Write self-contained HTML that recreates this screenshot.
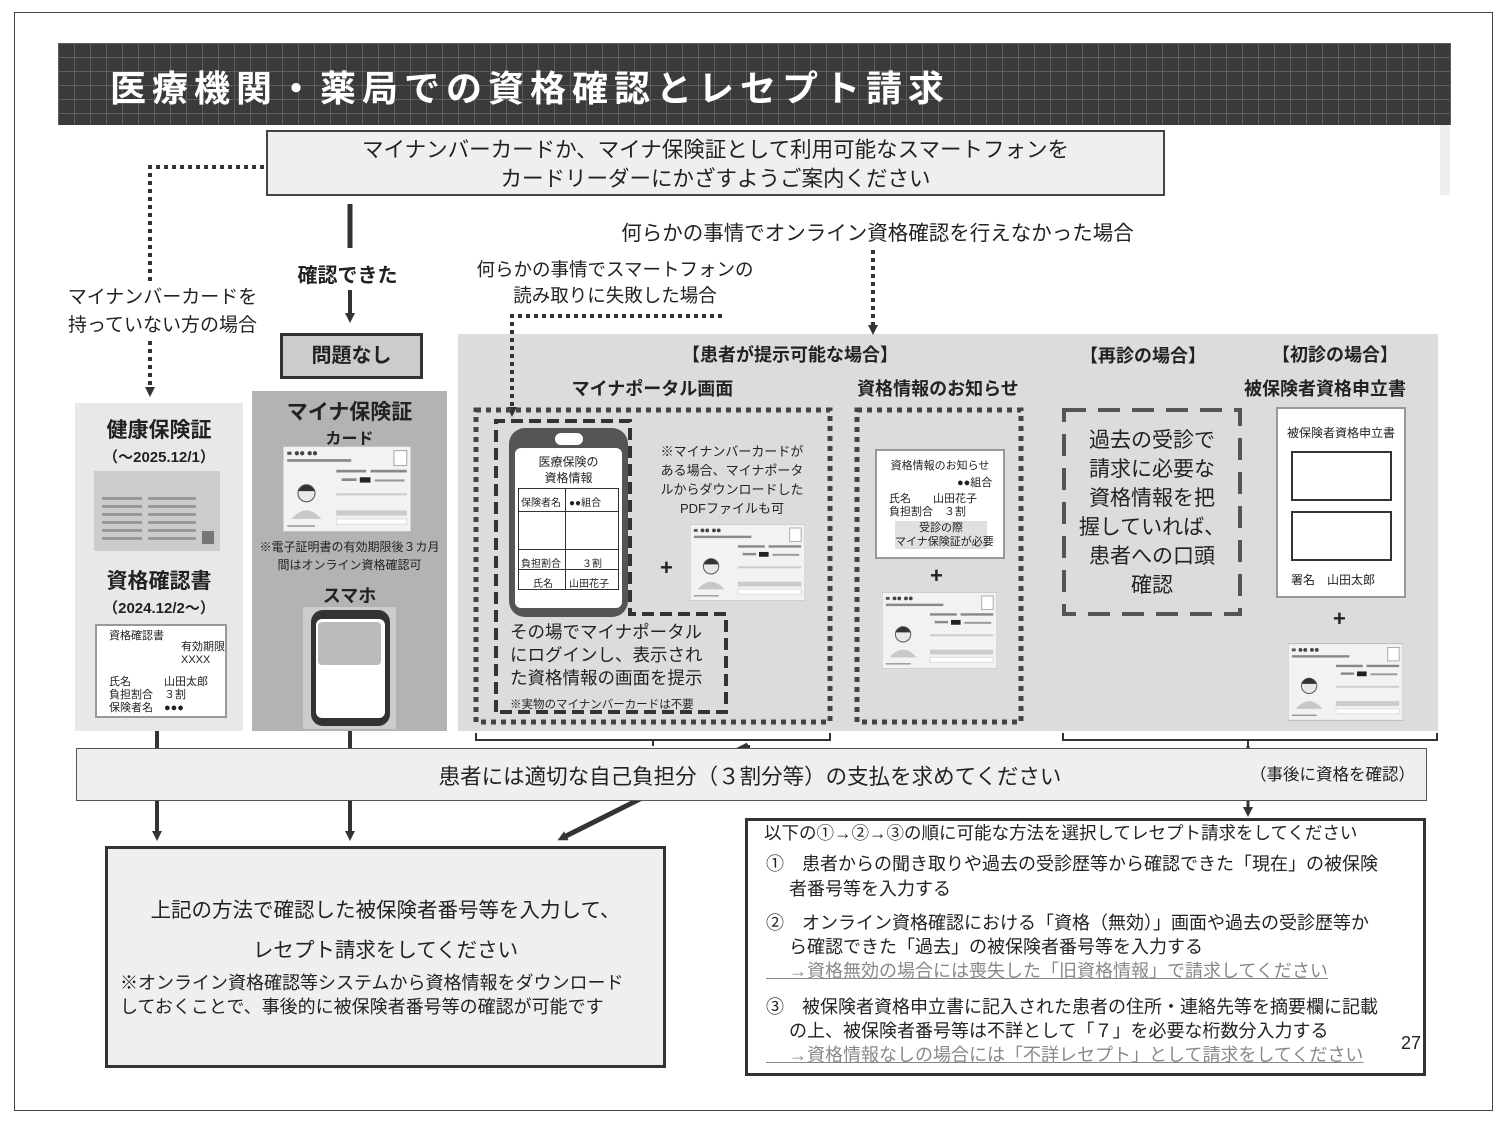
<!DOCTYPE html>
<html><head><meta charset="utf-8">
<style>
*{margin:0;padding:0;box-sizing:border-box}
body{width:1505px;height:1125px;background:#fff;position:relative;overflow:hidden;font-family:"Liberation Sans","Noto Sans CJK JP",sans-serif;color:#222}
.a{position:absolute}
.c{text-align:center;white-space:nowrap}
.b{font-weight:bold}
</style></head><body>
<svg width="0" height="0" style="position:absolute">
<defs>
<symbol id="card" viewBox="0 0 120 80">
<rect x="0" y="0" width="120" height="80" fill="#f2f2f2" stroke="#bbb"/>
<rect x="4" y="5" width="4" height="3" fill="#555"/><circle cx="13" cy="6.5" r="2" fill="#444"/><circle cx="18" cy="6.5" r="2" fill="#444"/><circle cx="25" cy="6.5" r="2" fill="#444"/><circle cx="30" cy="6.5" r="2" fill="#444"/>
<rect x="4" y="12" width="60" height="2.5" fill="#888"/>
<rect x="104" y="4" width="12" height="14" fill="#fff" stroke="#aaa"/>
<rect x="50" y="22" width="28" height="2.5" fill="#888"/><rect x="82" y="22" width="34" height="2.5" fill="#888"/>
<rect x="55" y="30" width="14" height="2.5" fill="#888"/><rect x="72" y="29" width="10" height="5" fill="#222"/><rect x="86" y="31" width="28" height="2" fill="#999"/>
<circle cx="22" cy="44" r="8" fill="#e8e8e8" stroke="#555"/><path d="M14 42 Q22 30 30 42 Z" fill="#333"/>
<path d="M8 68 Q22 52 36 68 Z" fill="#c8c8c8"/>
<rect x="50" y="44" width="66" height="2" fill="#ccc"/>
<rect x="50" y="60" width="66" height="5" fill="#ccc"/><rect x="50" y="68" width="66" height="5" fill="#fff" stroke="#ddd"/>
<rect x="4" y="74" width="26" height="1.5" fill="#999"/>
</symbol>
<pattern id="grid" width="16" height="14" patternUnits="userSpaceOnUse">
<rect width="16" height="14" fill="#3a3a3a"/><path d="M0 0.5H16M0.5 0V14" stroke="#5e5e5e" stroke-width="1"/>
</pattern>
<marker id="ar" markerWidth="10" markerHeight="10" refX="5" refY="5" orient="auto" markerUnits="userSpaceOnUse"><path d="M0 0L10 5L0 10Z" fill="#333"/></marker>
</defs>
</svg>

<div class="a" style="left:14px;top:12px;width:1479px;height:1099px;border:1px solid #444"></div>
<svg class="a" style="left:58px;top:43px" width="1393" height="82"><rect width="1393" height="82" fill="url(#grid)"/></svg>
<div class="a" style="left:1440px;top:125px;width:10px;height:70px;background:#eee"></div>
<div class="a b" style="left:110px;top:60px;font-size:36px;color:#fff;letter-spacing:6px">医療機関・薬局での資格確認とレセプト請求</div>

<div class="a" style="left:75px;top:403px;width:168px;height:328px;background:#e8e8e8"></div>
<div class="a" style="left:252px;top:391px;width:195px;height:340px;background:#b3b3b3"></div>
<div class="a" style="left:458px;top:334px;width:980px;height:397px;background:#dcdcdc"></div>

<svg class="a" style="left:0;top:0" width="1505" height="1125">
<g fill="none" stroke="#333">
<path d="M264 167H150V392" stroke-width="4" stroke-dasharray="4 4" marker-end="url(#ar)"/>
<path d="M350 204V248" stroke-width="5"/>
<path d="M350 290V318" stroke-width="4" marker-end="url(#ar)"/>
<path d="M873 250V330" stroke-width="4" stroke-dasharray="4 4" marker-end="url(#ar)"/>
<path d="M722 316H512V412" stroke-width="4" stroke-dasharray="4 4" marker-end="url(#ar)"/>
<rect x="476" y="410" width="354" height="312" stroke-width="5" stroke-dasharray="5 5" stroke="#444"/>
<rect x="857" y="410" width="164" height="312" stroke-width="5" stroke-dasharray="5 5" stroke="#444"/>
<path d="M496 712V421H630V614H726V712H496" stroke-width="4" stroke-dasharray="12 6" stroke="#333"/>
<rect x="1064" y="410" width="176" height="204" stroke-width="4" stroke-dasharray="22 12" stroke="#555"/>
<path d="M476 733V740H830V733M653 740V746" stroke-width="2"/>
<path d="M1063 733V740H1437V733M1248 740V746" stroke-width="2"/>
<path d="M157 731V748M350 731V748M748 745V748" stroke-width="4"/>
<path d="M157 800V836" stroke-width="4" marker-end="url(#ar)"/>
<path d="M350 800V836" stroke-width="4" marker-end="url(#ar)"/>
<path d="M1248 746V812" stroke-width="3" marker-end="url(#ar)"/>
<path d="M748 745L562 838" stroke-width="5" marker-end="url(#ar)"/>
</g>
</svg>

<div class="a c" style="left:266px;top:130px;width:899px;height:66px;background:#efefef;border:2px solid #444;font-size:21.5px;line-height:29px;padding-top:4px">マイナンバーカードか、マイナ保険証として利用可能なスマートフォンを<br>カードリーダーにかざすようご案内ください</div>

<div class="a c" style="left:60px;top:284px;width:205px;font-size:19px;line-height:28px;background:#fff">マイナンバーカードを<br>持っていない方の場合</div>
<div class="a c b" style="left:285px;top:259px;width:125px;font-size:20px;background:#fff">確認できた</div>
<div class="a c b" style="left:280px;top:333px;width:143px;height:46px;background:#ccc;border:3px solid #333;font-size:20px;line-height:40px">問題なし</div>

<div class="a c" style="left:600px;top:216px;width:555px;font-size:20.5px;background:#fff">何らかの事情でオンライン資格確認を行えなかった場合</div>
<div class="a c" style="left:460px;top:257px;width:310px;font-size:18.5px;line-height:26px;background:#fff">何らかの事情でスマートフォンの<br>読み取りに失敗した場合</div>

<div class="a c b" style="left:75px;top:414px;width:168px;font-size:21px">健康保険証</div>
<div class="a c b" style="left:75px;top:446px;width:168px;font-size:15px">（～2025.12/1）</div>
<div class="a" style="left:94px;top:471px;width:126px;height:80px;background:#ccc">
<div class="a" style="left:8px;top:26px;width:40px;height:46px;background:repeating-linear-gradient(#999 0 3px,transparent 3px 8px)"></div>
<div class="a" style="left:54px;top:26px;width:48px;height:46px;background:repeating-linear-gradient(#999 0 3px,transparent 3px 8px)"></div>
<div class="a" style="left:108px;top:60px;width:12px;height:13px;background:#777"></div></div>
<div class="a c b" style="left:75px;top:565px;width:168px;font-size:21px">資格確認書</div>
<div class="a c b" style="left:75px;top:597px;width:168px;font-size:15px">（2024.12/2～）</div>
<div class="a" style="left:95px;top:624px;width:132px;height:94px;background:#fff;border:2px solid #999;font-size:11px;line-height:13px;padding:4px 0 0 12px">資格確認書<div class="a" style="left:84px;top:15px">有効期限<br>XXXX</div><div class="a" style="left:12px;top:50px">氏名　　　山田太郎<br>負担割合　３割<br>保険者名　●●●</div></div>

<div class="a c b" style="left:252px;top:396px;width:195px;font-size:21px">マイナ保険証</div>
<div class="a c b" style="left:252px;top:425px;width:195px;font-size:16px">カード</div>
<svg class="a" style="left:283px;top:446px" width="128" height="86"><use href="#card" width="128" height="86"/></svg>
<div class="a c" style="left:252px;top:538px;width:195px;font-size:12px;line-height:18px">※電子証明書の有効期限後３カ月<br>間はオンライン資格確認可</div>
<div class="a c b" style="left:252px;top:582px;width:195px;font-size:18px">スマホ</div>
<div class="a" style="left:303px;top:607px;width:93px;height:122px;background:#ccc"></div>
<div class="a" style="left:311px;top:610px;width:79px;height:116px;background:#333;border-radius:12px"></div>
<div class="a" style="left:316px;top:619px;width:69px;height:99px;background:#fff;border-radius:6px"></div>
<div class="a" style="left:318px;top:622px;width:63px;height:43px;background:#bbb;border-radius:4px"></div>

<div class="a c b" style="left:640px;top:341px;width:300px;font-size:18px">【患者が提示可能な場合】</div>
<div class="a c b" style="left:540px;top:375px;width:225px;font-size:18px">マイナポータル画面</div>
<div class="a c b" style="left:838px;top:375px;width:200px;font-size:18px">資格情報のお知らせ</div>
<div class="a" style="left:509px;top:428px;width:119px;height:189px;background:#555;border-radius:16px"></div>
<div class="a" style="left:555px;top:433px;width:28px;height:12px;background:#fff;border-radius:6px"></div>
<div class="a" style="left:515px;top:448px;width:107px;height:160px;background:#fff;border-radius:6px"></div>
<div class="a c" style="left:515px;top:454px;width:107px;font-size:12px;line-height:16px">医療保険の<br>資格情報</div>
<div class="a" style="left:518px;top:488px;width:101px;height:102px;border:1px solid #333;font-size:10px">
<div class="a" style="left:46px;top:0;width:1px;height:100px;background:#333"></div>
<div class="a" style="left:0;top:22px;width:100px;height:1px;background:#333"></div>
<div class="a" style="left:0;top:60px;width:100px;height:1px;background:#333"></div>
<div class="a" style="left:0;top:80px;width:100px;height:1px;background:#333"></div>
<div class="a" style="left:2px;top:5px">保険者名</div><div class="a" style="left:50px;top:5px">●●組合</div>
<div class="a" style="left:2px;top:66px">負担割合</div><div class="a" style="left:63px;top:66px">３割</div>
<div class="a" style="left:14px;top:86px">氏名</div><div class="a" style="left:50px;top:86px">山田花子</div></div>
<div class="a c" style="left:644px;top:442px;width:176px;font-size:13px;line-height:19px">※マイナンバーカードが<br>ある場合、マイナポータ<br>ルからダウンロードした<br>PDFファイルも可</div>
<div class="a b" style="left:660px;top:555px;font-size:22px">+</div>
<svg class="a" style="left:690px;top:524px" width="115" height="77"><use href="#card" width="115" height="77"/></svg>
<div class="a" style="left:510px;top:621px;font-size:17.5px;line-height:23px">その場でマイナポータル<br>にログインし、表示され<br>た資格情報の画面を提示</div>
<div class="a" style="left:510px;top:696px;font-size:11.5px">※実物のマイナンバーカードは不要</div>

<div class="a" style="left:875px;top:449px;width:130px;height:110px;background:#fff;border:2px solid #999;font-size:11px;line-height:13px">
<div class="a c" style="left:0;top:9px;width:126px">資格情報のお知らせ</div>
<div class="a" style="left:80px;top:26px">●●組合</div>
<div class="a" style="left:12px;top:42px">氏名　　山田花子<br>負担割合　３割</div>
<div class="a c" style="left:18px;top:70px;width:92px;background:#e0e0e0;line-height:14px">受診の際<br>マイナ保険証が必要</div></div>
<div class="a b" style="left:930px;top:563px;font-size:22px">+</div>
<svg class="a" style="left:882px;top:592px" width="115" height="77"><use href="#card" width="115" height="77"/></svg>

<div class="a c b" style="left:1063px;top:342px;width:160px;font-size:18px">【再診の場合】</div>
<div class="a c b" style="left:1255px;top:341px;width:160px;font-size:18px">【初診の場合】</div>
<div class="a c b" style="left:1235px;top:375px;width:180px;font-size:18px">被保険者資格申立書</div>
<div class="a c" style="left:1066px;top:426px;width:172px;font-size:21px;line-height:29px">過去の受診で<br>請求に必要な<br>資格情報を把<br>握していれば、<br>患者への口頭<br>確認</div>
<div class="a" style="left:1276px;top:407px;width:130px;height:191px;background:#fff;border:2px solid #999">
<div class="a c" style="left:0;top:15px;width:126px;font-size:12px">被保険者資格申立書</div>
<div class="a" style="left:13px;top:42px;width:101px;height:50px;border:2px solid #333"></div>
<div class="a" style="left:13px;top:102px;width:101px;height:50px;border:2px solid #333"></div>
<div class="a" style="left:13px;top:162px;font-size:12px">署名　山田太郎</div></div>
<div class="a b" style="left:1333px;top:606px;font-size:22px">+</div>
<svg class="a" style="left:1288px;top:642px" width="115" height="80"><use href="#card" width="115" height="80"/></svg>

<div class="a" style="left:76px;top:748px;width:1351px;height:53px;background:#efefef;border:1px solid #555"></div>
<div class="a c" style="left:380px;top:760px;width:740px;font-size:21.5px">患者には適切な自己負担分（３割分等）の支払を求めてください</div>
<div class="a" style="left:1250px;top:761px;font-size:16.5px">（事後に資格を確認）</div>

<div class="a" style="left:105px;top:846px;width:561px;height:222px;background:#efefef;border:3px solid #333"></div>
<div class="a c" style="left:105px;top:891px;width:561px;font-size:20.5px;line-height:40px">上記の方法で確認した被保険者番号等を入力して、<br>レセプト請求をしてください</div>
<div class="a" style="left:120px;top:971px;font-size:18px;line-height:24px">※オンライン資格確認等システムから資格情報をダウンロード<br>しておくことで、事後的に被保険者番号等の確認が可能です</div>

<div class="a" style="left:745px;top:818px;width:681px;height:258px;background:#fff;border:3px solid #333"></div>
<div class="a" style="left:764px;top:820px;font-size:17.5px">以下の①→②→③の順に可能な方法を選択してレセプト請求をしてください</div>
<div class="a" style="left:766px;top:852px;font-size:18px;line-height:25px">①　患者からの聞き取りや過去の受診歴等から確認できた「現在」の被保険<br>　 者番号等を入力する</div>
<div class="a" style="left:766px;top:911px;font-size:18px;line-height:24px">②　オンライン資格確認における「資格（無効）」画面や過去の受診歴等か<br>　 ら確認できた「過去」の被保険者番号等を入力する<br><span style="color:#888;text-decoration:underline">　 →資格無効の場合には喪失した「旧資格情報」で請求してください</span></div>
<div class="a" style="left:766px;top:995px;font-size:18px;line-height:24px">③　被保険者資格申立書に記入された患者の住所・連絡先等を摘要欄に記載<br>　 の上、被保険者番号等は不詳として「７」を必要な桁数分入力する<br><span style="color:#888;text-decoration:underline">　 →資格情報なしの場合には「不詳レセプト」として請求をしてください</span></div>
<div class="a" style="left:1401px;top:1033px;font-size:18px">27</div>
</body></html>
